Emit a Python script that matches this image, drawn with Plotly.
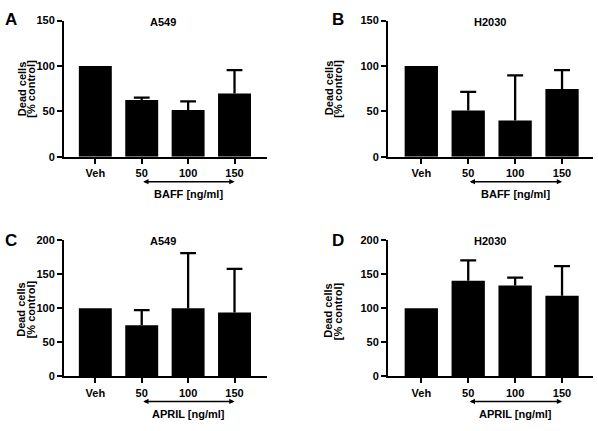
import plotly.graph_objects as go

categories = ["Veh", "50", "100", "150"]

panel_letters = ["A", "B", "C", "D"]
panel_titles = ["A549", "H2030", "A549", "H2030"]
treatments = ["BAFF [ng/ml]", "BAFF [ng/ml]", "APRIL [ng/ml]", "APRIL [ng/ml]"]

values_A = [100, 62.5, 51.5, 69.5]
errors_A = [None, 2.5, 9.5, 26]
values_B = [100, 51, 40, 74.5]
errors_B = [None, 20.5, 49.5, 21]
values_C = [100, 75, 100, 94]
errors_C = [None, 22.5, 81, 64]
values_D = [100, 140.5, 133.5, 118.5]
errors_D = [None, 30, 11.5, 43.5]

yticks_top = [0, 50, 100, 150]
yticks_bottom = [0, 50, 100, 150, 200]

W, H = 598, 431
FONT = "Arial, Liberation Sans, sans-serif"
CAP_HALF = 0.17   # half width of the error-bar caps, in category units
LW = 2.3


def px(x):
    return x / W


def py(y):
    return 1 - y / H


xpos = list(range(len(categories)))

panels = [
    dict(vals=values_A, errs=errors_A, xd=[64, 267], yd=[155, 15], xr=[-0.675, 3.70], yt=yticks_top,
         letter=(10.5, 14), title=(163, 16.5), ytl=(21.5, 31, 85)),
    dict(vals=values_B, errs=errors_B, xd=[388, 593], yd=[155, 15], xr=[-0.71, 3.66], yt=yticks_top,
         letter=(337.5, 14), title=(490, 16.5), ytl=(328.5, 338, 85)),
    dict(vals=values_C, errs=errors_C, xd=[64, 267], yd=[381, 241], xr=[-0.675, 3.70], yt=yticks_bottom,
         letter=(11, 241), title=(163, 241.5), ytl=(21.5, 31, 312)),
    dict(vals=values_D, errs=errors_D, xd=[388, 593], yd=[381, 241], xr=[-0.71, 3.66], yt=yticks_bottom,
         letter=(337.5, 241), title=(490, 241.5), ytl=(328.5, 338, 314)),
]

fig = go.Figure()
annotations = []
layout = {}

for i, p in enumerate(panels):
    n = "" if i == 0 else str(i + 1)
    xa, ya = "x" + n, "y" + n
    fig.add_trace(go.Bar(
        x=xpos, y=p["vals"], xaxis=xa, yaxis=ya, width=0.71,
        marker=dict(color="black", line=dict(width=0)),
        showlegend=False, hoverinfo="skip",
    ))
    # upper-only error bars (stem + cap) built from the data arrays
    ex, ey = [], []
    for xv, v, e in zip(xpos, p["vals"], p["errs"]):
        if e is None:
            continue
        top = v + e
        ex += [xv, xv, None, xv - CAP_HALF, xv + CAP_HALF, None]
        ey += [v, top, None, top, top, None]
    fig.add_trace(go.Scatter(
        x=ex, y=ey, xaxis=xa, yaxis=ya, mode="lines",
        line=dict(color="black", width=LW), showlegend=False, hoverinfo="skip",
    ))
    layout["xaxis" + n] = dict(
        domain=[px(p["xd"][0]), px(p["xd"][1])], anchor=ya, range=p["xr"],
        tickvals=xpos, ticktext=categories, ticks="outside", ticklen=5, tickwidth=2,
        tickcolor="black", showline=True, linewidth=2, linecolor="black",
        showgrid=False, zeroline=False,
        tickfont=dict(family=FONT, size=11, color="black", weight="bold"),
    )
    layout["yaxis" + n] = dict(
        domain=[py(p["yd"][0]), py(p["yd"][1])], anchor=xa,
        range=[0, p["yt"][-1]], tickvals=p["yt"], ticks="outside", ticklen=5, tickwidth=2,
        tickcolor="black", showline=True, linewidth=2, linecolor="black",
        showgrid=False, zeroline=False,
        tickfont=dict(family=FONT, size=11, color="black", weight="bold"),
    )
    annotations.append(dict(text=panel_letters[i], x=px(p["letter"][0]), y=py(p["letter"][1]),
                            xref="paper", yref="paper", showarrow=False, xanchor="center", yanchor="middle",
                            font=dict(family=FONT, size=17, color="black", weight="bold")))
    annotations.append(dict(text=panel_titles[i], x=px(p["title"][0]), y=py(p["title"][1]),
                            xref="paper", yref="paper", showarrow=False, xanchor="center", yanchor="middle",
                            font=dict(family=FONT, size=11, color="black", weight="bold")))
    for txt, xx in (("Dead cells", p["ytl"][0]), ("[% control]", p["ytl"][1])):
        annotations.append(dict(text=txt, x=px(xx), y=py(p["ytl"][2]), xref="paper", yref="paper",
                                showarrow=False, textangle=-90, xanchor="center", yanchor="middle",
                                font=dict(family=FONT, size=11, color="black", weight="bold")))
    annotations.append(dict(text="", x=xpos[3], y=-0.184, xref=xa, yref=ya + " domain",
                            ax=xpos[1], ay=0, axref=xa, ayref="pixel", showarrow=True,
                            arrowside="end+start", arrowhead=2, arrowsize=0.7, arrowwidth=1.5,
                            arrowcolor="black"))
    annotations.append(dict(text=treatments[i], x=xpos[2], y=-0.273, xref=xa, yref=ya + " domain",
                            showarrow=False, xanchor="center", yanchor="middle",
                            font=dict(family=FONT, size=11, color="black", weight="bold")))

fig.update_layout(
    width=W, height=H, margin=dict(l=0, r=0, t=0, b=0),
    paper_bgcolor="white", plot_bgcolor="white",
    annotations=annotations, **layout,
)

fig.write_html("out.html", config={"displayModeBar": False},
               post_script="document.body.style.margin='0';")
